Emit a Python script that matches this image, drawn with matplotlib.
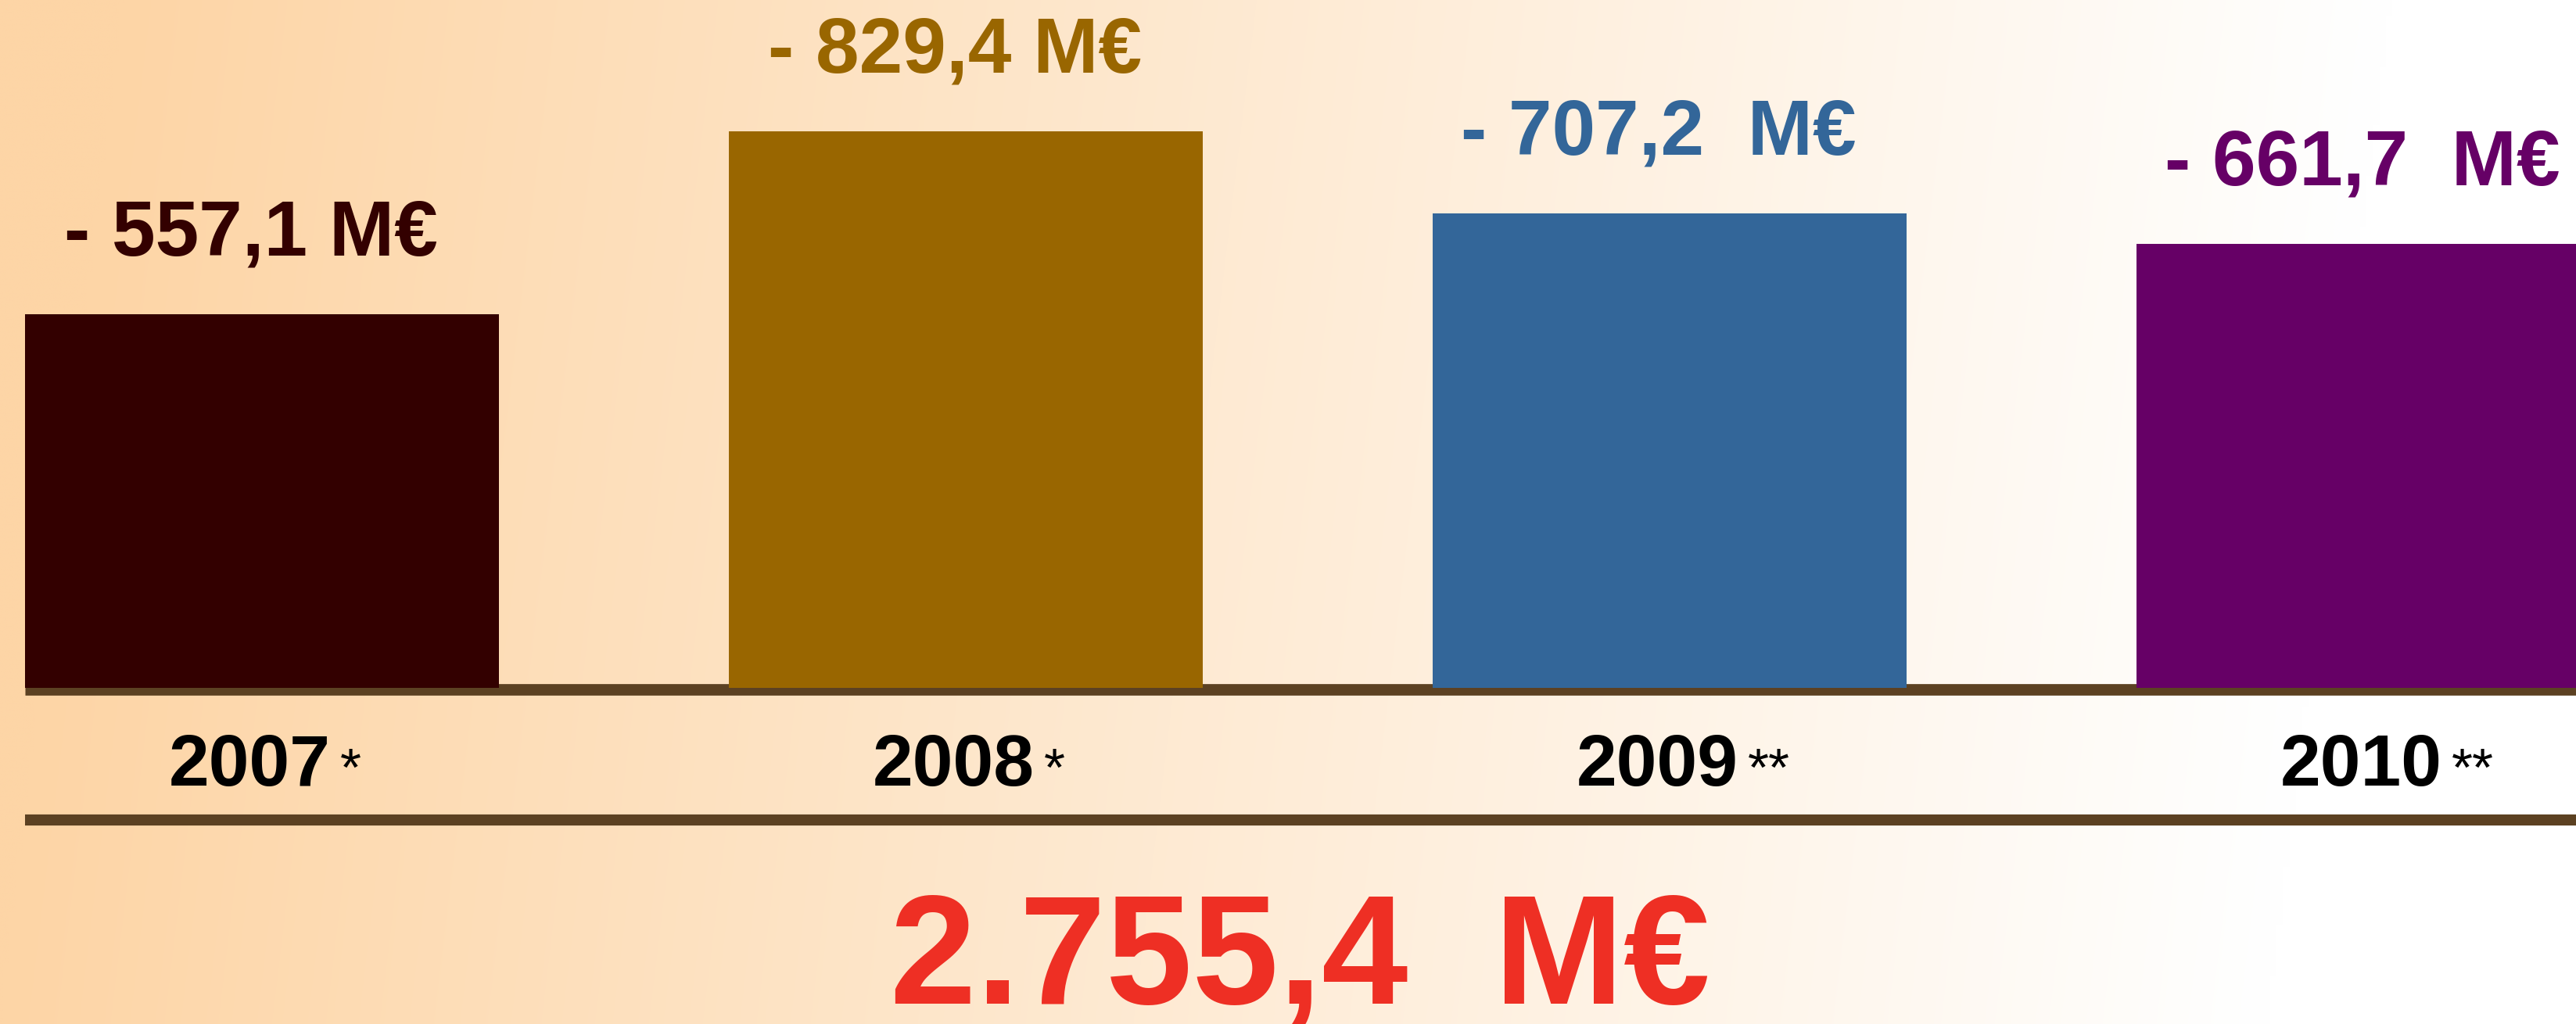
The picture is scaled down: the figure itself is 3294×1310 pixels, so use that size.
import numpy as np
import matplotlib
matplotlib.use("Agg")
import matplotlib.pyplot as plt
from matplotlib import transforms

# data
years = ["2007", "2008", "2009", "2010"]
notes = ["*", "*", "**", "**"]
values = [557.1, 829.4, 707.2, 661.7]
value_labels = ["- 557,1 M€", "- 829,4 M€", "- 707,2  M€", "- 661,7  M€"]
bar_colors = ["#330000", "#996600", "#336699", "#660066"]
total_label = "2.755,4  M€"

W, H = 3294, 1310
DPI = 100
plt.rcParams['font.family'] = ['Liberation Sans', 'DejaVu Sans']

fig = plt.figure(figsize=(W / DPI, H / DPI), dpi=DPI)

# background gradient (peach on the left fading to white)
bg = fig.add_axes([0, 0, 1, 1], zorder=0)
gx, gy = np.meshgrid(np.linspace(0, W, 400), np.linspace(0, H, 160))
u = (gx - 0.12 * (H - gy)) / W
f = np.clip(1 - u / 0.88, 0, 1)[..., None]
peach = np.array([253, 213, 166]) / 255.0
img = 1 - (1 - peach) * f
bg.imshow(img, extent=[0, W, H, 0], aspect="auto", interpolation="bilinear")
bg.set_xlim(0, W)
bg.set_ylim(H, 0)
bg.axis("off")

# pixel overlay for rules and text under the bars
ov = fig.add_axes([0, 0, 1, 1], zorder=1)
ov.set_xlim(0, W)
ov.set_ylim(H, 0)
ov.axis("off")
ov.patch.set_alpha(0)
line_col = "#5C4122"
ov.plot([32, W], [881.5, 881.5], color=line_col, lw=10.6, solid_capstyle="butt")
ov.plot([32, W], [1049, 1049], color=line_col, lw=10.2, solid_capstyle="butt")

# bars
ax = fig.add_axes([0, 0, 1, 1], zorder=2)
ax.patch.set_alpha(0)
px_per_unit = 0.858
base_px, center0, step = 880, 335, 900
ax.set_xlim(-center0 / step, (W - center0) / step)
ax.set_ylim(-(H - base_px) / px_per_unit, base_px / px_per_unit)
ax.axis("off")

x = np.arange(len(years))
ax.bar(x, values, width=606 / step, color=bar_colors)

for i, v in enumerate(values):
    ax.annotate(value_labels[i], xy=(i, v), xytext=(-10, 54.5), textcoords="offset points",
                ha="center", va="baseline", fontsize=72, fontweight="bold",
                color=bar_colors[i])

# year labels with footnote marks
trans = transforms.blended_transform_factory(ax.transData, ov.transData)
for i, yr in enumerate(years):
    ax.annotate(yr, xy=(i, 1005), xycoords=trans, xytext=(63, 0), textcoords="offset points",
                ha="right", va="baseline", fontsize=67, fontweight="bold", color="black")
    ax.annotate(notes[i], xy=(i, 1005), xycoords=trans, xytext=(72, 0), textcoords="offset points",
                ha="left", va="baseline", fontsize=50, color="black")

# total
ov.text(1662, 1284, total_label, ha="center", va="baseline", fontsize=143,
        fontweight="bold", color="#EE2F24")

fig.savefig("out.png", dpi=DPI)
